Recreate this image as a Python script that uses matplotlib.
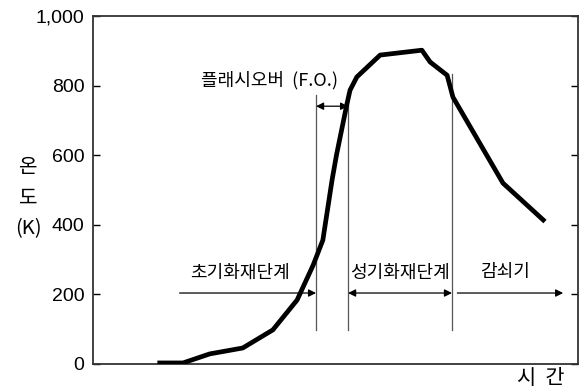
import matplotlib
matplotlib.use("Agg")
from matplotlib import pyplot as plt

plt.rcParams['font.family'] = ['Noto Sans CJK KR', 'DejaVu Sans']

# time axis has no ticks: arbitrary units 0..100
time = [13.8, 18.6, 24.1, 30.9, 37.1, 42.1, 45.4, 47.4, 49.3, 50.2,
        51.3, 52.4, 53.0, 54.4, 59.2, 67.8, 69.5, 73.0, 74.2, 84.5, 92.8]
temp = [3, 3, 29, 46, 98, 184, 284, 356, 529, 600,
        675, 750, 787, 825, 888, 902, 868, 830, 767, 520, 414]

y_ticks = [0, 200, 400, 600, 800, 1000]
y_labels = ['0', '200', '400', '600', '800', '1,000']

# phase boundaries (time) and labels
fo_start, fo_end, decay_start = 46.0, 52.6, 74.0
phase_names = ['초기화재단계', '성기화재단계', '감쇠기']

fig = plt.figure(figsize=(5.87, 3.9), dpi=100)
ax = fig.add_axes([0.158, 0.0667, 0.827, 0.892])

ax.plot(time, temp, color='black', lw=3.4, solid_joinstyle='round', zorder=3)

# vertical phase lines
ax.plot([fo_start, fo_start], [98, 773], color='#555555', lw=0.9)
ax.plot([fo_end, fo_end], [98, 759], color='#555555', lw=0.9)
ax.plot([decay_start, decay_start], [98, 833], color='#555555', lw=0.9)

arr = dict(arrowstyle='-|>', color='black', lw=0.9, mutation_scale=11, shrinkA=0, shrinkB=0)
arr2 = dict(arrowstyle='<|-|>', color='black', lw=0.9, mutation_scale=11, shrinkA=0, shrinkB=0)

# flashover
ax.annotate('', xy=(fo_end, 741), xytext=(fo_start, 741), arrowprops=arr2)
ax.text(36.5, 816, '플래시오버  (F.O.)', fontsize=13, ha='center', va='center')

# phases
ax.annotate('', xy=(fo_start, 204), xytext=(17.9, 204), arrowprops=arr)
ax.annotate('', xy=(decay_start, 204), xytext=(fo_end, 204), arrowprops=arr2)
ax.annotate('', xy=(96.9, 204), xytext=(75.1, 204), arrowprops=arr)
ax.text(30.3, 263, phase_names[0], fontsize=13, ha='center', va='center')
ax.text(63.3, 263, phase_names[1], fontsize=13, ha='center', va='center')
ax.text(85.0, 263, phase_names[2], fontsize=13, ha='center', va='center')

ax.set_xlim(0, 100)
ax.set_ylim(0, 1000)
ax.set_xticks([])
ax.set_yticks(y_ticks)
ax.set_yticklabels(y_labels, fontsize=14, family='Liberation Sans')
ax.tick_params(axis='y', direction='in', length=5, width=1, right=True, pad=6)
for s in ax.spines.values():
    s.set_linewidth(1.3)
    s.set_color('#333333')

fig.text(28 / 587, 1 - 198 / 390, '온\n도\n(K)', fontsize=14.5, ha='center', va='center',
         linespacing=1.6)
fig.text(541 / 587, 1 - 378 / 390, '시  간', fontsize=15, ha='center', va='center')

fig.savefig('out.png', dpi=100)
